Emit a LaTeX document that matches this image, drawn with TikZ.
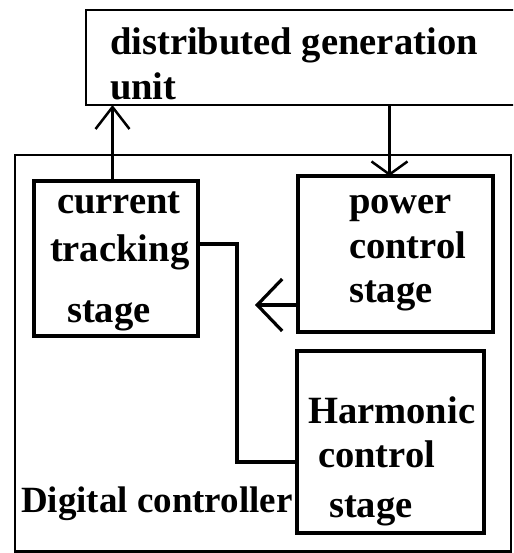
\documentclass[tikz,border=0pt]{standalone}
\usepackage{fontspec}
\setmainfont{Liberation Serif}
\usetikzlibrary{arrows.meta}
\begin{document}
\begin{tikzpicture}[x=1pt,y=-1pt,
  box/.style={draw=black,rectangle,inner sep=0pt,outer sep=0pt},
  thinbox/.style={box,line width=2.2pt},
  thickbox/.style={box,line width=4.6pt},
  lbl/.style={anchor=base west,inner sep=0pt,outer sep=0pt,font=\fontsize{38.6}{38.6}\selectfont\bfseries},
  conn/.style={line width=4.4pt,line join=miter},
  uparr/.style={line width=2.5pt,-{Straight Barb[length=22pt,width=34pt]}},
  downarr/.style={line width=2.5pt,-{Straight Barb[length=13pt,width=36pt]}},
  leftarr/.style={line width=3.2pt,-{Straight Barb[length=25pt,width=52pt]}}]
\useasboundingbox (0,0) rectangle (513,553);
\clip (0,0) rectangle (513,553);
% boxes
\node[thinbox,minimum width=454pt,minimum height=95pt] (dg) at (313,57.5) {};
\node[thinbox,line width=2.6pt,minimum width=496pt,minimum height=396.5pt] (dc) at (263,353.25) {};
\node[thickbox,minimum width=164pt,minimum height=155pt] (cur) at (116,258.5) {};
\node[thickbox,minimum width=195pt,minimum height=156pt] (pow) at (395.5,254) {};
\node[thickbox,minimum width=187pt,minimum height=182pt] (harm) at (390.5,442) {};
% labels
\node[lbl] (t1) at (110,55) {distributed generation};
\node[lbl] (t2) at (110,100) {unit};
\node[lbl] (c1) at (57,213) {current};
\node[lbl] (c2) at (50,261) {tracking};
\node[lbl] (c3) at (67,322) {stage};
\node[lbl] (p1) at (349,213) {power};
\node[lbl] (p2) at (349,258) {control};
\node[lbl] (p3) at (349,302) {stage};
\node[lbl] (h1) at (308,423) {Harmonic};
\node[lbl] (h2) at (318,467) {control};
\node[lbl] (h3) at (329,517) {stage};
\node[lbl,font=\fontsize{37}{37}\selectfont\bfseries] (d1) at (21,512) {Digital controller};
% connectors
\draw[uparr] ([xshift=-3.5pt]cur.north) -- ([xshift=-3.5pt]cur.north |- dg.south);
\draw[downarr] ([xshift=-6pt]pow.north |- dg.south) -- ([xshift=-6pt]pow.north);
\coordinate (tip) at (255,305);
\draw[leftarr] (pow.west |- tip) -- (tip);
\coordinate (bend) at (237,244);
\draw[conn] (cur.east |- bend) -- (bend) |- ([yshift=-20pt]harm.west);
\end{tikzpicture}
\end{document}
